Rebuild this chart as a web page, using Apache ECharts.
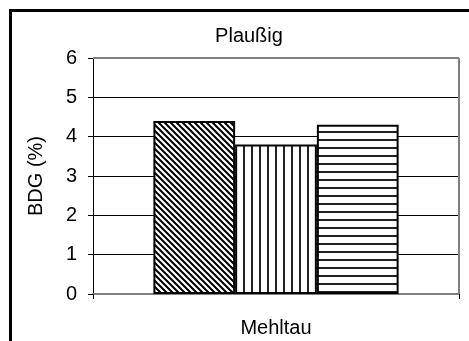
<!DOCTYPE html>
<html>
<head>
<meta charset="utf-8">
<script src="https://cdn.jsdelivr.net/npm/echarts@6/dist/echarts.min.js"></script>
<style>
  html, body { margin: 0; padding: 0; background: #fff; }
  #frame { position: absolute; left: 9px; top: 9px; width: 470px; height: 340px;
           border-left: 3px solid #000; border-top: 3px solid #000; }
  #chart { position: absolute; left: 0; top: 0; width: 469px; height: 341px; }
</style>
</head>
<body>
<div id="frame"></div>
<div id="chart"></div>
<script>
// Chart content
const title = 'Plaußig';
const categories = ['Mehltau'];
const yAxisName = 'BDG (%)';
const seriesA = [4.4];
const seriesB = [3.8];
const seriesC = [4.3];
const yTicks = [0, 1, 2, 3, 4, 5, 6];

// Hatch fills drawn onto small tiles
function tile(size, draw) {
  const c = document.createElement('canvas');
  c.width = size; c.height = size;
  const ctx = c.getContext('2d');
  ctx.fillStyle = '#fff';
  ctx.fillRect(0, 0, size, size);
  ctx.strokeStyle = '#000';
  draw(ctx, size);
  return c;
}
const diagonal = tile(6, (ctx, s) => {
  ctx.lineWidth = 2;
  ctx.beginPath();
  for (let k = -1; k <= 1; k++) {
    ctx.moveTo(k * s - 1, -1);
    ctx.lineTo(k * s + s + 1, s + 1);
  }
  ctx.stroke();
});
const vertical = tile(8, (ctx, s) => {
  ctx.fillStyle = '#222';
  ctx.fillRect(3, 0, 2, s);
});
const horizontal = tile(8, (ctx, s) => {
  ctx.fillStyle = '#222';
  ctx.fillRect(0, 3, s, 2);
});

const chart = echarts.init(document.getElementById('chart'), null, { renderer: 'canvas' });
const font = 'Arial, "Liberation Sans", sans-serif';

function barSeries(name, data, pattern) {
  return {
    name, type: 'bar', data,
    barGap: '0%', barCategoryGap: '33%',
    itemStyle: { color: { image: pattern, repeat: 'repeat' }, borderColor: '#000', borderWidth: 2 },
    emphasis: { disabled: true }
  };
}

chart.setOption({
  animation: false,
  title: {
    text: title, left: 244, top: 21, textAlign: 'center',
    textStyle: { fontFamily: font, fontSize: 20, fontWeight: 'normal', color: '#000' }
  },
  grid: { left: 93, right: 10, top: 58, bottom: 47, containLabel: false, outerBoundsMode: 'none' },
  xAxis: {
    type: 'category', data: categories,
    name: categories[0], nameLocation: 'middle', nameGap: 24,
    nameTextStyle: { fontFamily: font, fontSize: 20, color: '#000' },
    axisLine: { lineStyle: { color: '#808080', width: 2 } },
    axisTick: { show: true, length: 5, inside: false, lineStyle: { color: '#000' } },
    axisLabel: { show: false },
    splitLine: { show: false }
  },
  yAxis: {
    type: 'value', min: yTicks[0], max: yTicks[yTicks.length - 1], interval: 1,
    name: yAxisName, nameLocation: 'middle', nameGap: 47, nameRotate: 90,
    nameTextStyle: { fontFamily: font, fontSize: 20, color: '#000' },
    axisLine: { show: true, lineStyle: { color: '#000', width: 1 } },
    axisTick: { show: true, length: 5, lineStyle: { color: '#000' } },
    axisLabel: { fontFamily: font, fontSize: 20, color: '#000', margin: 16 },
    splitLine: { show: true, lineStyle: { color: '#000', width: 1 } }
  },
  series: [
    barSeries('a', seriesA, diagonal),
    barSeries('b', seriesB, vertical),
    barSeries('c', seriesC, horizontal)
  ]
});

// Gray plot-area frame on the top and right edges
const grid = chart.getModel().getComponent('grid').coordinateSystem.getRect();
chart.setOption({
  graphic: [
    { type: 'line', shape: { x1: grid.x, y1: grid.y, x2: grid.x + grid.width, y2: grid.y },
      style: { stroke: '#808080', lineWidth: 2 }, z: 5 },
    { type: 'line', shape: { x1: grid.x + grid.width, y1: grid.y, x2: grid.x + grid.width, y2: grid.y + grid.height },
      style: { stroke: '#808080', lineWidth: 2 }, z: 5 }
  ]
});
</script>
</body>
</html>
